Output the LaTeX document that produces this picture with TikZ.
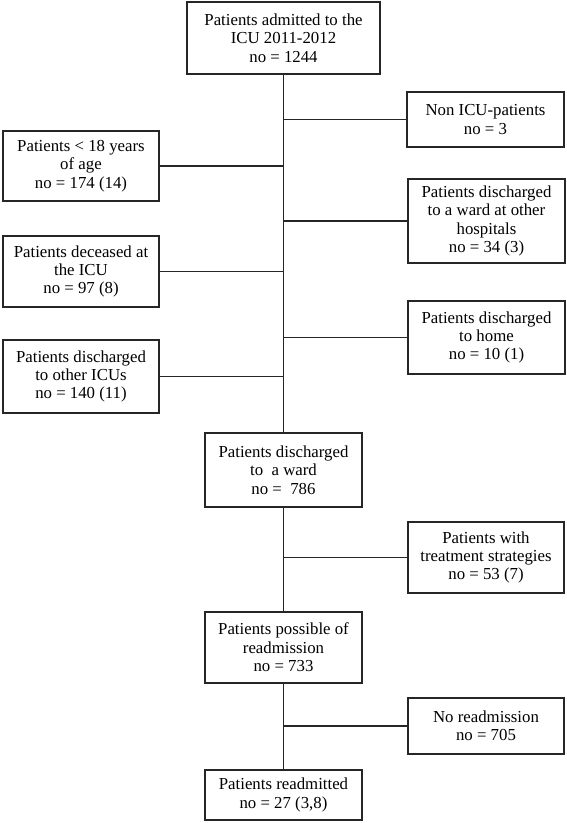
\documentclass[tikz,border=0pt]{standalone}
\usepackage{fontspec}
\setmainfont{Liberation Serif}
\begin{document}
\begin{tikzpicture}[x=1pt,y=-1pt,
  box/.style={draw=black!85, line width=1.4pt, rectangle, inner sep=0pt, align=center,
    font=\fontsize{16.8}{18.4}\selectfont},
  conn/.style={draw=black!85, line width=1.4pt}]
\useasboundingbox (0,0) rectangle (567,823);
\node[box, minimum width=193, minimum height=72] (top) at (283.5,38) {Patients admitted to the\\ICU 2011-2012\\no = 1244};
\node[box, minimum width=157, minimum height=55] (nonicu) at (485.5,119.5) {Non ICU-patients\\no = 3};
\node[box, minimum width=156, minimum height=70] (lt18) at (81,166) {Patients {<} 18 years\\of age\\no = 174 (14)};
\node[box, minimum width=157, minimum height=84] (otherhosp) at (486.5,221) {Patients discharged\\to a ward at other\\hospitals\\no = 34 (3)};
\node[box, minimum width=156, minimum height=71] (deceased) at (81,271.5) {Patients deceased at\\the ICU\\no = 97 (8)};
\node[box, minimum width=157, minimum height=73] (home) at (486.5,337.5) {Patients discharged\\to home\\no = 10 (1)};
\node[box, minimum width=156, minimum height=73] (othericu) at (81,376.5) {Patients discharged\\to other ICUs\\no = 140 (11)};
\node[box, minimum width=157, minimum height=74] (ward) at (283.5,470) {Patients discharged\\to\ \ a ward\\no =\ \ 786};
\node[box, minimum width=156, minimum height=71] (treat) at (486,557.5) {Patients with\\treatment strategies\\no = 53 (7)};
\node[box, minimum width=157, minimum height=71] (possible) at (283.5,647.5) {Patients possible of\\readmission\\no = 733};
\node[box, minimum width=156, minimum height=56] (noread) at (486,726) {No readmission\\no = 705};
\node[box, minimum width=157, minimum height=50] (readm) at (283.5,795) {Patients readmitted\\no = 27 (3,8)};

\draw[conn] (top.south) -- (ward.north);
\draw[conn] (ward.south) -- (possible.north);
\draw[conn] (possible.south) -- (readm.north);
\foreach \n in {nonicu,otherhosp,home,treat,noread}
  \draw[conn] (\n.west) -- (\n.west -| top.south);
\foreach \n in {lt18,deceased,othericu}
  \draw[conn] (\n.east) -- (\n.east -| top.south);
\end{tikzpicture}
\end{document}
